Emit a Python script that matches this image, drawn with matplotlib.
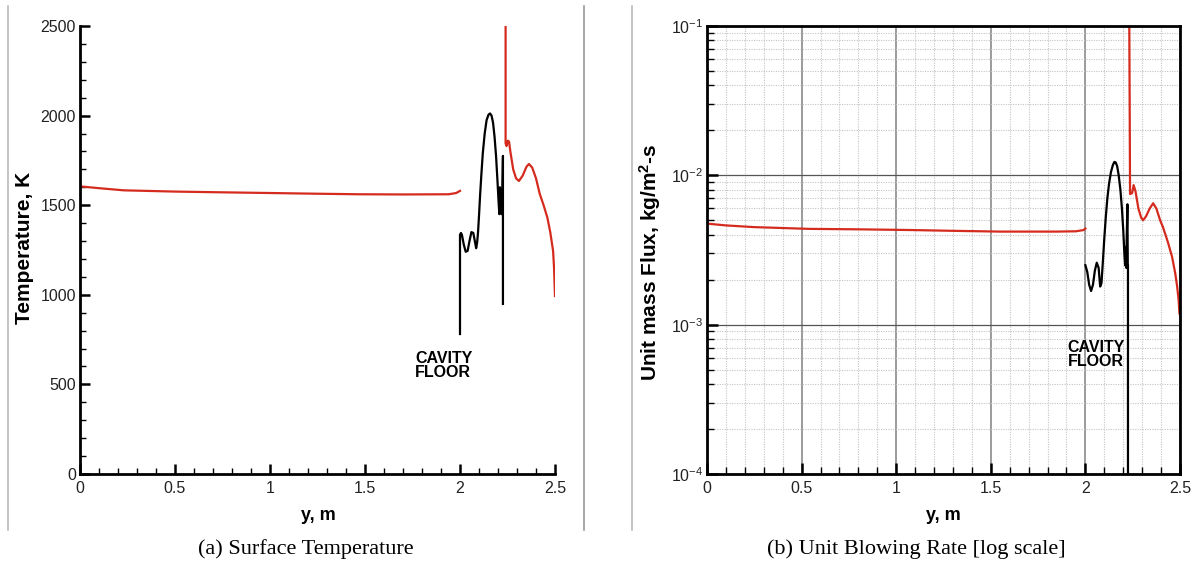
import matplotlib
matplotlib.use("Agg")
import matplotlib.pyplot as plt
from matplotlib.lines import Line2D
from matplotlib.ticker import MultipleLocator, LogLocator, FixedLocator, NullFormatter
import numpy as np

plt.rcParams['font.family'] = ['Liberation Sans', 'DejaVu Sans']
plt.rcParams['mathtext.fontset'] = 'custom'
plt.rcParams['mathtext.rm'] = 'Liberation Sans'
plt.rcParams['mathtext.bf'] = 'Liberation Sans:bold'
plt.rcParams['mathtext.it'] = 'Liberation Sans:italic'

# ---------------- data (a) Surface Temperature ----------------
temp_y_outer = [0, 0.1, 0.23, 0.5, 0.74, 1.0, 1.25, 1.47, 1.7, 1.94, 1.98, 2.0]
temp_T_outer = [1605, 1595, 1583, 1576, 1572, 1568, 1564, 1561, 1560, 1561, 1568, 1580]

temp_y_cavity = [2.0, 2.0, 2.005, 2.01, 2.02, 2.03, 2.04, 2.05, 2.06, 2.07, 2.078,
                 2.085, 2.09, 2.095, 2.1, 2.106, 2.113, 2.12, 2.13, 2.14, 2.15,
                 2.158, 2.166, 2.174, 2.182, 2.19, 2.197, 2.203, 2.207, 2.21, 2.213,
                 2.216, 2.219, 2.222, 2.226, 2.226]
temp_T_cavity = [781, 1335, 1345, 1335, 1280, 1240, 1245, 1300, 1350, 1345, 1300,
                 1260, 1290, 1350, 1440, 1560, 1680, 1790, 1900, 1975, 2005,
                 2012, 2000, 1960, 1880, 1770, 1640, 1520, 1450, 1600, 1460,
                 1590, 1450, 1500, 1775, 949]

temp_y_aft = [2.24, 2.24, 2.245, 2.252, 2.258, 2.265, 2.28, 2.295, 2.31, 2.33, 2.35,
              2.363, 2.38, 2.4, 2.42, 2.44, 2.46, 2.475, 2.49, 2.495, 2.5]
temp_T_aft = [2500, 1845, 1830, 1860, 1855, 1800, 1700, 1650, 1635, 1665, 1715,
              1730, 1710, 1650, 1562, 1500, 1430, 1350, 1244, 1150, 993]

# ---------------- data (b) Unit Blowing Rate ----------------
flux_y_outer = [0, 0.1, 0.25, 0.54, 0.8, 1.09, 1.3, 1.55, 1.85, 1.95, 1.99, 2.0]
flux_m_outer = [4.75e-3, 4.62e-3, 4.5e-3, 4.38e-3, 4.35e-3, 4.3e-3, 4.25e-3, 4.2e-3,
                4.2e-3, 4.22e-3, 4.3e-3, 4.4e-3]

flux_y_cavity = [2.0, 2.01, 2.02, 2.03, 2.04, 2.05, 2.06, 2.07, 2.078, 2.085, 2.092,
                 2.1, 2.108, 2.116, 2.125, 2.135, 2.145, 2.153, 2.16, 2.168, 2.176,
                 2.185, 2.193, 2.2, 2.206, 2.21, 2.213, 2.216, 2.218, 2.222, 2.224,
                 2.225, 2.225]
flux_m_cavity = [2.5e-3, 2.25e-3, 1.85e-3, 1.68e-3, 1.85e-3, 2.3e-3, 2.6e-3, 2.4e-3,
                 1.8e-3, 1.9e-3, 2.6e-3, 3.8e-3, 5.3e-3, 7.0e-3, 8.8e-3, 1.05e-2,
                 1.17e-2, 1.23e-2, 1.22e-2, 1.15e-2, 1.0e-2, 8.0e-3, 6.0e-3, 4.3e-3,
                 3.0e-3, 2.5e-3, 3.3e-3, 2.4e-3, 3.6e-3, 6.4e-3, 2.5e-3, 2.5e-3, 1e-4]

flux_y_aft = [2.232, 2.234, 2.236, 2.247, 2.255, 2.265, 2.28, 2.295, 2.305, 2.32,
              2.34, 2.358, 2.375, 2.395, 2.41, 2.435, 2.458, 2.475, 2.485, 2.493, 2.497]
flux_m_aft = [0.1, 0.03, 7.5e-3, 7.6e-3, 8.6e-3, 7.8e-3, 6.0e-3, 5.2e-3, 5.0e-3,
              5.3e-3, 6.0e-3, 6.5e-3, 6.0e-3, 5.0e-3, 4.5e-3, 3.6e-3, 2.85e-3,
              2.2e-3, 1.8e-3, 1.45e-3, 1.19e-3]

temp_ticks = [0, 500, 1000, 1500, 2000, 2500]
flux_ticks = [1e-4, 1e-3, 1e-2, 1e-1]
flux_tick_labels = [r'$10^{-4}$', r'$10^{-3}$', r'$10^{-2}$', r'$10^{-1}$']
x_ticks = [0, 0.5, 1, 1.5, 2, 2.5]
x_tick_labels = ['0', '0.5', '1', '1.5', '2', '2.5']

RED = '#d52b1e'
BLACK = '#000000'

W, H = 1201, 565
fig = plt.figure(figsize=(W / 100, H / 100), dpi=100)


def px(x0, y0, x1, y1):
    return [x0 / W, 1 - y1 / H, (x1 - x0) / W, (y1 - y0) / H]


TICK_FS = 11.5
YLABEL_FS = 15
XLABEL_FS = 13

# ---------- Left panel ----------
ax1 = fig.add_axes(px(80, 26, 555, 474))
ax1.plot(temp_y_outer, temp_T_outer, color=RED, lw=1.6)
ax1.plot(temp_y_cavity, temp_T_cavity, color=BLACK, lw=1.6)
ax1.plot(temp_y_aft, temp_T_aft, color=RED, lw=1.6)
ax1.set_xlim(0, 2.5)
ax1.set_ylim(0, 2500)
ax1.set_xticks(x_ticks)
ax1.set_xticklabels(x_tick_labels)
ax1.set_yticks(temp_ticks)
ax1.xaxis.set_minor_locator(MultipleLocator(0.1))
ax1.yaxis.set_minor_locator(MultipleLocator(100))
for s in ['top', 'right']:
    ax1.spines[s].set_visible(False)
for s in ['left', 'bottom']:
    ax1.spines[s].set_linewidth(2)
ax1.tick_params(which='major', direction='in', length=7, width=1.8, labelsize=TICK_FS,
                pad=3, labelcolor='#222222')
ax1.tick_params(which='minor', direction='in', length=4, width=1.0)
ax1.tick_params(axis='x', which='major', pad=5)
ax1.text(1.763, 686, 'CAVITY\nFLOOR', fontsize=11.5, fontweight='bold',
         ha='left', va='top', linespacing=0.95)

# ---------- Right panel ----------
ax2 = fig.add_axes(px(707, 26, 1180, 474))
ax2.set_yscale('log')
ax2.set_xlim(0, 2.5)
ax2.set_ylim(1e-4, 1e-1)
ax2.set_xticks(x_ticks)
ax2.set_xticklabels(x_tick_labels)
ax2.xaxis.set_minor_locator(MultipleLocator(0.1))
ax2.yaxis.set_major_locator(FixedLocator(flux_ticks))
ax2.set_yticklabels(flux_tick_labels)
ax2.yaxis.set_minor_locator(LogLocator(base=10, subs=np.arange(2, 10)))
ax2.yaxis.set_minor_formatter(NullFormatter())
ax2.grid(which='minor', axis='both', color='#c4c4c4', lw=0.8, linestyle=(0, (1, 1.2)))
ax2.grid(which='major', axis='x', color='#8a8a8a', lw=1.2, linestyle='-')
ax2.grid(which='major', axis='y', color='#555555', lw=0.9, linestyle='-')
ax2.set_axisbelow(True)
ax2.plot(flux_y_outer, flux_m_outer, color=RED, lw=1.6)
ax2.plot(flux_y_cavity, flux_m_cavity, color=BLACK, lw=1.6)
ax2.plot(flux_y_aft, flux_m_aft, color=RED, lw=1.6)
for s in ax2.spines.values():
    s.set_linewidth(2)
ax2.tick_params(which='major', direction='in', length=8, width=1.8, labelsize=TICK_FS,
                pad=3, labelcolor='#222222')
ax2.tick_params(which='minor', direction='in', length=5, width=1.0)
ax2.tick_params(axis='x', which='major', pad=5)
ax2.text(1.905, 7.9e-4, 'CAVITY\nFLOOR', fontsize=11.5, fontweight='bold',
         ha='left', va='top', linespacing=0.95)

# ---------- axis labels ----------
fig.text(25 / W, 1 - 248 / H, 'Temperature, K', rotation=90, fontsize=YLABEL_FS,
         fontweight='bold', ha='center', va='center')
fig.text(318 / W, 1 - 516 / H, 'y, m', fontsize=XLABEL_FS, fontweight='bold',
         ha='center', va='center')
fig.text(650 / W, 1 - 262 / H, r'Unit mass Flux, kg/m$^\mathbf{2}$-s', rotation=90,
         fontsize=YLABEL_FS, fontweight='bold', ha='center', va='center')
fig.text(943 / W, 1 - 516 / H, 'y, m', fontsize=XLABEL_FS, fontweight='bold',
         ha='center', va='center')

# ---------- captions ----------
fig.text(306 / W, 1 - 549 / H, '(a) Surface Temperature', family='Liberation Serif',
         fontsize=16, ha='center', va='center')
fig.text(916 / W, 1 - 549 / H, '(b) Unit Blowing Rate [log scale]', family='Liberation Serif',
         fontsize=16, ha='center', va='center')

# ---------- separator lines ----------
for xpix, col in [(8, '#bbbbbb'), (584, '#999999'), (632, '#bbbbbb')]:
    fig.add_artist(Line2D([xpix / W, xpix / W], [1 - 6 / H, 1 - 530 / H],
                          color=col, lw=1.2))

fig.savefig('out.png', dpi=100)
